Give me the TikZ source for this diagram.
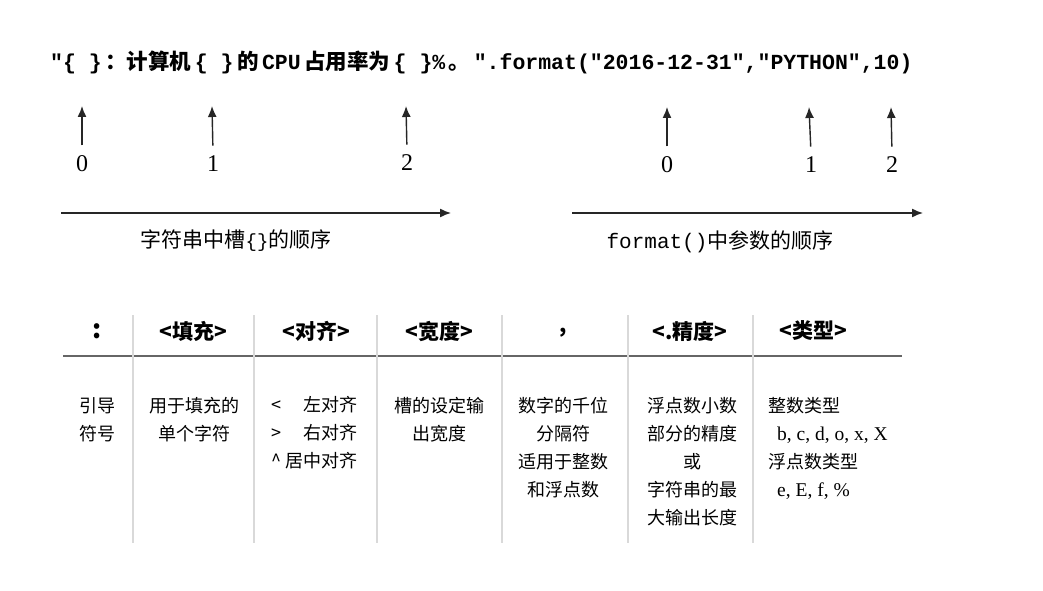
\documentclass[tikz,border=0pt]{standalone}
\usepackage{fontspec}
\setmainfont{Liberation Serif}
\newfontfamily\monof{Liberation Mono}
\newfontfamily\cjk{Noto Sans CJK SC}
\usetikzlibrary{arrows.meta}
\newcommand{\ck}[1]{\kern3.5pt{\cjk #1}\kern3.5pt}
\begin{document}
\begin{tikzpicture}[x=1pt,y=-1pt,
  arr/.style={-{Latex[length=11pt,width=9pt]}, line width=1.4pt, black!85},
  num/.style={font=\fontsize{24}{26}\selectfont},
  vline/.style={black!15, line width=1.2pt},
  hline/.style={black!60, line width=2pt},
  hdr/.style={font=\cjk\bfseries\fontsize{21}{24}\selectfont},
  body/.style={font=\cjk\fontsize{18}{28}\selectfont, align=center, anchor=north, inner sep=0pt},
  lbl/.style={font=\cjk\fontsize{21}{24}\selectfont},
]
\useasboundingbox[fill=white] (0,0) rectangle (1043,591);

% top code line
\node[anchor=west, inner sep=0pt] (code) at (50,62)
  {\fontsize{21.5}{24}\selectfont\monof\bfseries
   "\{ \}\ck{：计算机}\{ \}\ck{的}CPU\ck{占用率为}\{ \}\%\ck{。}".format("2016-12-31","PYTHON",10)};

% left group
\node[num] (a0) at (82,164) {0};
\node[num] (a1) at (213,164) {1};
\node[num] (a2) at (407,163) {2};
\coordinate (ta0) at (82,106);
\coordinate (ta1) at (212,106);
\coordinate (ta2) at (406,106);
\foreach \i in {0,1,2}{\draw[arr, shorten <=7pt] (a\i.north) -- (ta\i);}
\coordinate (ls) at (61,213);
\coordinate (le) at (451,213);
\draw[arr] (ls) -- (le);
\node[lbl] (ll) at (236,241) {字符串中槽{\monof\fontsize{19}{22}\selectfont\{\}}的顺序};

% right group
\node[num] (b0) at (667,165) {0};
\node[num] (b1) at (811,165) {1};
\node[num] (b2) at (892,165) {2};
\coordinate (tb0) at (667,107);
\coordinate (tb1) at (809,107);
\coordinate (tb2) at (891,107);
\foreach \i in {0,1,2}{\draw[arr, shorten <=7pt] (b\i.north) -- (tb\i);}
\coordinate (rs) at (572,213);
\coordinate (re) at (923,213);
\draw[arr] (rs) -- (re);
\node[lbl] (rl) at (720,242) {{\monof\fontsize{21}{24}\selectfont format()}中参数的顺序};

% table lines
\coordinate (hl) at (63,356);
\coordinate (hr) at (902,356);
\draw[hline] (hl) -- (hr);
\foreach \x [count=\k] in {133,254,377,502,628,753}{
  \coordinate (vt\k) at (\x,315);
  \coordinate (vb\k) at (\x,543);
  \draw[vline] (vt\k) -- (vb\k);
}

% headers
\node[hdr, font=\cjk\bfseries\fontsize{26}{28}\selectfont] (h1) at (97,331) {:};
\node[hdr] (h2) at (193,331) {<填充>};
\node[hdr] (h3) at (316,331) {<对齐>};
\node[hdr] (h4) at (439,331) {<宽度>};
\node[hdr] (h5) at (563,333) {,};
\node[hdr] (h6) at (690,331) {<.精度>};
\node[hdr] (h7) at (813,331) {<类型>};

% body
\node[body] (c1) at (97,397) {引导\\符号};
\node[body] (c2) at (194,397) {用于填充的\\单个字符};
\node[body, anchor=north east] (c3) at (358,392)
  {\begin{tabular}{@{}l@{\hspace{4pt}}r@{}}<&左对齐\\>&右对齐\\\textasciicircum&居中对齐\end{tabular}};
\node[body] (c4) at (439,397) {槽的设定输\\出宽度};
\node[body] (c5) at (563,397) {数字的千位\\分隔符\\适用于整数\\和浮点数};
\node[body] (c6) at (692,397) {浮点数小数\\部分的精度\\或\\字符串的最\\大输出长度};
\node[body, anchor=north west, align=left] (c7) at (768,397)
  {整数类型\\\hspace*{9pt}{\rmfamily\fontsize{19.5}{28}\selectfont b, c, d, o, x, X}\\浮点数类型\\\hspace*{9pt}{\rmfamily\fontsize{19.5}{28}\selectfont e, E, f, \%}};
\end{tikzpicture}
\end{document}
